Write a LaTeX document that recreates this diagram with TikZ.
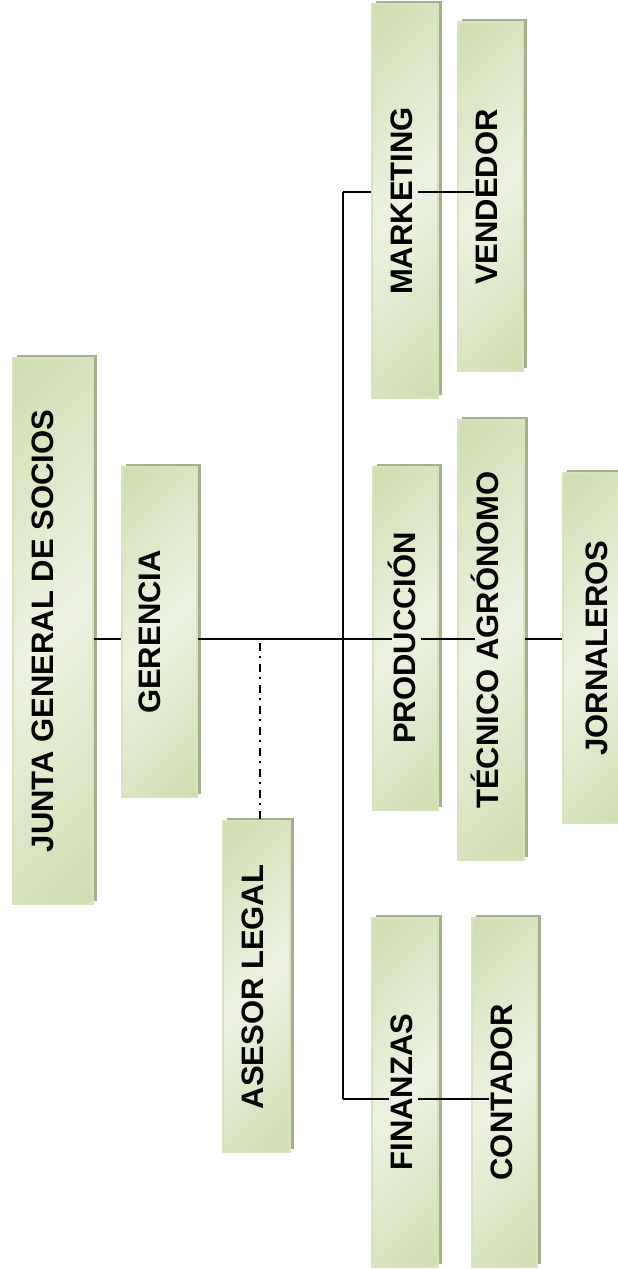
\documentclass[tikz,border=0pt]{standalone}
\usepackage{fontspec}
\setmainfont{Liberation Sans}
\usetikzlibrary{shadows}
\definecolor{boxdark}{RGB}{195,214,155}
\definecolor{boxlight}{RGB}{237,242,226}
\definecolor{boxedge}{RGB}{214,227,188}
\definecolor{boxshadow}{RGB}{165,174,141}
\pgfdeclarehorizontalshading{boxshade}{100bp}{color(0bp)=(boxdark); color(50bp)=(boxlight); color(100bp)=(boxdark)}
\begin{document}
\begin{tikzpicture}[x=1pt,y=-1pt,
  box/.style={rectangle, draw=boxedge, line width=1.6pt, shading=boxshade, shading angle=-45,
    drop shadow={shadow xshift=4pt, shadow yshift=3pt, fill=boxshadow, opacity=1}, inner sep=0pt},
  lbl/.style={rotate=90, anchor=base, inner sep=0pt, text height=23pt, text depth=6pt,
    font=\fontsize{31}{31}\selectfont\bfseries},
  link/.style={line width=1.6pt, black},
  legal/.style={line width=1.2pt, black, dash pattern=on 8pt off 5pt on 2pt off 6pt}]
\useasboundingbox (0,0) rectangle (618,1269);

% boxes
\node[box, minimum width=80, minimum height=546] (junta) at (53,631) {};
\node[box, minimum width=75, minimum height=330] (ger) at (159.5,632) {};
\node[box, minimum width=67, minimum height=331] (ases) at (256.5,986.5) {};
\node[box, minimum width=66, minimum height=394] (mkt) at (405,201) {};
\node[box, minimum width=65, minimum height=349] (ven) at (490.5,196.5) {};
\node[box, minimum width=65, minimum height=343] (prod) at (405.5,638.5) {};
\node[box, minimum width=66, minimum height=440] (tec) at (491,640) {};
\node[box, minimum width=66, minimum height=350] (jor) at (596,648) {};
\node[box, minimum width=66, minimum height=349] (fin) at (405,1092.5) {};
\node[box, minimum width=65, minimum height=349] (con) at (504.5,1092.5) {};

% labels
\node[lbl] (l-junta) at (53,631) {JUNTA GENERAL DE SOCIOS};
\node[lbl] (l-ger) at (160,632) {GERENCIA};
\node[lbl] (l-ases) at (263,987) {ASESOR LEGAL};
\node[lbl] (l-mkt) at (412,201) {MARKETING};
\node[lbl] (l-ven) at (497,197) {VENDEDOR};
\node[lbl] (l-prod) at (415,638) {PRODUCCIÓN};
\node[lbl] (l-tec) at (498,640) {TÉCNICO AGRÓNOMO};
\node[lbl] (l-jor) at (607,648) {JORNALEROS};
\node[lbl] (l-fin) at (412,1092) {FINANZAS};
\node[lbl] (l-con) at (512,1092) {CONTADOR};

% junction points of the connectors
\coordinate (hub) at (343,639);
\coordinate (tm) at (343,192);
\coordinate (tf) at (343,1099);
\coordinate (lg) at (260,643);

% connectors
\draw[link] (junta.east |- hub) -- (ger.west |- hub);
\draw[link] (ger.east |- hub) -- (l-prod.north |- hub);
\draw[link] (l-prod.south |- hub) -- (l-tec.north |- hub);
\draw[link] (tec.east |- hub) -- (jor.west |- hub);
\draw[link] (tm) -- (tf);
\draw[link] (tm) -- (mkt.west |- tm);
\draw[link] (l-mkt.south |- tm) -- (l-ven.north |- tm);
\draw[link] (tf) -- (l-fin.north |- tf);
\draw[link] (l-fin.south |- tf) -- (l-con.north |- tf);
\draw[legal] (lg) -- (ases.north -| lg);
\end{tikzpicture}
\end{document}
